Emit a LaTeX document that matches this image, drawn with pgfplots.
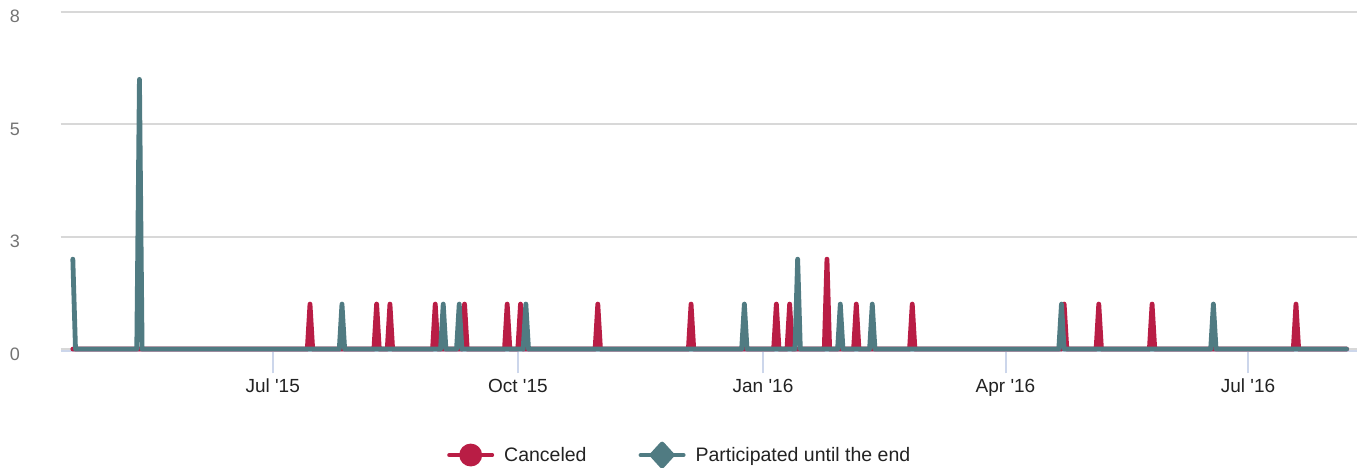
\documentclass[border=0pt]{standalone}
\usepackage{pgfplots}
\pgfplotsset{compat=1.18}
\usepackage{fontspec}
\setmainfont{Liberation Sans}[Ligatures=TeXOff]
\definecolor{canred}{RGB}{185,29,69}
\definecolor{partteal}{RGB}{80,123,130}
\definecolor{gridgray}{RGB}{216,216,216}
\definecolor{axisblue}{RGB}{204,214,235}
\definecolor{ylabgray}{RGB}{115,115,115}
\definecolor{txt}{RGB}{34,34,34}

\begin{document}
\begin{tikzpicture}
\useasboundingbox (0,0) rectangle (1359pt,468pt);
\begin{axis}[
  at={(60.7pt,116.5pt)}, anchor=south west,
  scale only axis, width=1296.3pt, height=339.5pt,
  xmin=-79.55, xmax=406.9, ymin=-0.055, ymax=7.5,
  clip=false,
  axis x line*=bottom, axis y line*=left,
  y axis line style={draw=none},
  x axis line style={-, draw=axisblue, line width=2pt},
  ytick={0,2.5,5,7.5}, yticklabels={0,3,5,8},
  ytick style={draw=none},
  ymajorgrids, grid style={gridgray, line width=2pt},
  xtick={0,92,184,275,366},
  xticklabels={Jul '15, Oct '15, Jan '16, Apr '16, Jul '16},
  tick align=outside, major tick length=22pt,
  xtick style={axisblue, line width=2pt},
  xticklabel style={anchor=base, inner sep=0pt, yshift=-19.5pt, font=\fontsize{19}{22}\selectfont, text=txt},
  yticklabel style={anchor=base east, inner sep=0pt, xshift=-18.7pt, yshift=-11pt, font=\fontsize{18}{21}\selectfont, text=ylabgray},
  legend columns=2,
  legend style={at={(0.298,-0.305)}, anchor=west, draw=none, fill=none, inner sep=0pt,
    font=\fontsize{19.5}{23}\selectfont, text=txt, nodes={inner sep=0pt},
    /tikz/every even column/.append style={column sep=52pt},
    /tikz/every odd column/.append style={column sep=10pt}},
  legend cell align=left,
]
\addplot[canred, line width=4.8pt, line join=round, line cap=round,
  legend image code/.code={\draw[canred, line width=4pt] (0pt,0pt) -- (43pt,0pt); \fill[canred] (21.5pt,0pt) circle (9pt);}]
  coordinates {
  (-75,0) (13,0) (14,1) (15,0) (38,0) (39,1) (40,0) (43,0) (44,1) (45,0)
  (60,0) (61,1) (62,0) (71,0) (72,1) (73,0) (87,0) (88,1) (89,0)
  (92,0) (93,1) (94,0) (121,0) (122,1) (123,0) (156,0) (157,1) (158,0)
  (188,0) (189,1) (190,0) (193,0) (194,1) (195,0) (207,0) (208,2) (209,0)
  (218,0) (219,1) (220,0) (239,0) (240,1) (241,0) (296,0) (297,1) (298,0)
  (309,0) (310,1) (311,0) (329,0) (330,1) (331,0) (383,0) (384,1) (385,0) (403,0)
  };
\addlegendentry{Canceled}
\addplot[partteal, line width=4.8pt, line join=round, line cap=round,
  legend image code/.code={\draw[partteal, line width=4pt] (0pt,0pt) -- (43pt,0pt); \fill[partteal] (21.5pt,11pt) -- (31.5pt,0pt) -- (21.5pt,-11pt) -- (11.5pt,0pt) -- cycle;}]
  coordinates {
  (-75,2) (-74,0) (-51,0) (-50,6) (-49,0) (25,0) (26,1) (27,0)
  (63,0) (64,1) (65,0) (69,0) (70,1) (71,0) (94,0) (95,1) (96,0)
  (176,0) (177,1) (178,0) (196,0) (197,2) (198,0) (212,0) (213,1) (214,0)
  (224,0) (225,1) (226,0) (295,0) (296,1) (297,0) (352,0) (353,1) (354,0) (403,0)
  };
\addlegendentry{Participated until the end}
\end{axis}
\end{tikzpicture}
\end{document}
